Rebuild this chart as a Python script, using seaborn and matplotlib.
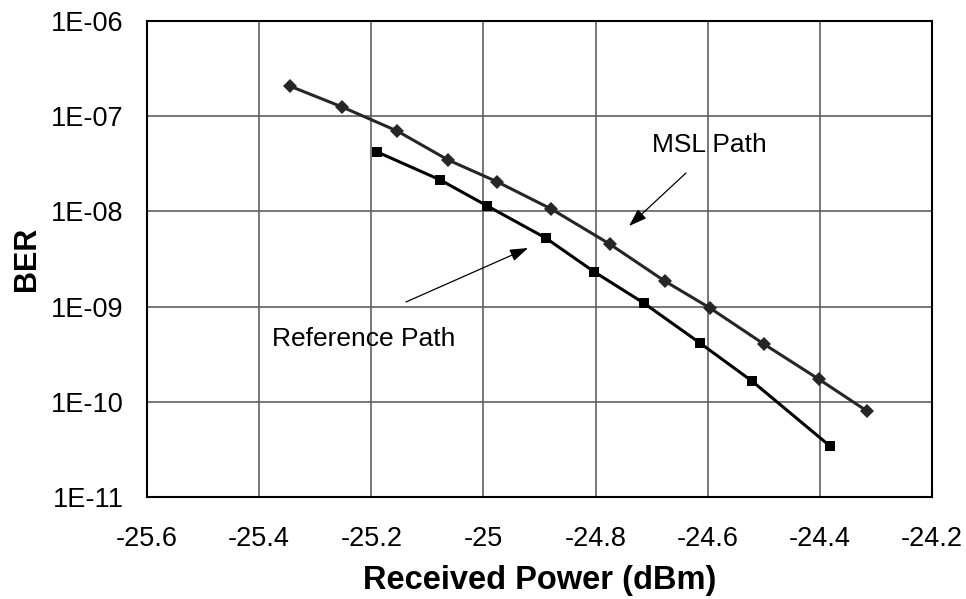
import numpy as np
import pandas as pd
import matplotlib
matplotlib.use("Agg")
import matplotlib.pyplot as plt
from matplotlib.ticker import FixedLocator, FixedFormatter
import seaborn as sns

msl_power = [-25.345, -25.252, -25.154, -25.063, -24.975, -24.879, -24.775,
             -24.677, -24.596, -24.500, -24.402, -24.316]
msl_ber = [2.07e-7, 1.25e-7, 7.0e-8, 3.47e-8, 2.04e-8, 1.06e-8, 4.55e-9,
           1.86e-9, 9.67e-10, 4.05e-10, 1.73e-10, 8.0e-11]
ref_power = [-25.189, -25.077, -24.993, -24.889, -24.802, -24.714, -24.614,
             -24.521, -24.382]
ref_ber = [4.2e-8, 2.14e-8, 1.14e-8, 5.26e-9, 2.31e-9, 1.09e-9, 4.15e-10,
           1.65e-10, 3.43e-11]
x_ticks = [-25.6, -25.4, -25.2, -25.0, -24.8, -24.6, -24.4, -24.2]
x_tick_labels = ["-25.6", "-25.4", "-25.2", "-25", "-24.8", "-24.6", "-24.4", "-24.2"]
y_ticks = [1e-11, 1e-10, 1e-9, 1e-8, 1e-7, 1e-6]
y_tick_labels = ["1E-11", "1E-10", "1E-09", "1E-08", "1E-07", "1E-06"]

sns.set_theme(style="white")
plt.rcParams['font.family'] = ['Liberation Sans', 'DejaVu Sans']
plt.rcParams['text.color'] = 'black'
plt.rcParams['axes.labelcolor'] = 'black'

df = pd.DataFrame({
    "power": msl_power + ref_power,
    "ber": msl_ber + ref_ber,
    "series": ["MSL Path"] * len(msl_power) + ["Reference Path"] * len(ref_power),
})

fig = plt.figure(figsize=(9.66, 5.99), dpi=100)
ax = fig.add_axes([147 / 966, 1 - 497 / 599, (932 - 147) / 966, (497 - 21) / 599])

sns.lineplot(data=df, x="power", y="ber", hue="series", style="series",
             palette={"MSL Path": "#262626", "Reference Path": "#000000"},
             markers={"MSL Path": "D", "Reference Path": "s"},
             dashes=False, markersize=7, linewidth=2.2, markeredgewidth=0,
             legend=False, ax=ax, zorder=3)

ax.set_yscale("log")
ax.set_xlim(-25.6, -24.2)
ax.set_ylim(1e-11, 1e-6)
ax.xaxis.set_major_locator(FixedLocator(x_ticks))
ax.xaxis.set_major_formatter(FixedFormatter(x_tick_labels))
ax.yaxis.set_major_locator(FixedLocator(y_ticks))
ax.yaxis.set_major_formatter(FixedFormatter(y_tick_labels))
ax.yaxis.set_minor_locator(FixedLocator([]))
ax.tick_params(axis="both", which="both", length=0, labelsize=19.5, colors="black")
ax.tick_params(axis="x", pad=21)
ax.tick_params(axis="y", pad=17)

ax.grid(True, which="major", color="#606060", linewidth=1.2)
for s in ax.spines.values():
    s.set_color("black")
    s.set_linewidth(1.5)

ax.set_xlabel("Received Power (dBm)", fontsize=23.5, fontweight="bold", labelpad=9)
ax.set_ylabel("BER", fontsize=22, fontweight="bold", labelpad=6)

arrow_style = "-|>,head_length=0.5,head_width=0.17"
ax.text(0.643, 0.7395, "MSL Path", transform=ax.transAxes, fontsize=19,
        ha="left", va="center")
ax.annotate("", xy=(0.614, 0.5693), xytext=(0.6866, 0.6807),
            xycoords="axes fraction", textcoords="axes fraction",
            arrowprops=dict(arrowstyle=arrow_style, color="black", lw=0.9,
                            shrinkA=0, shrinkB=0, mutation_scale=22))
ax.text(0.1592, 0.3319, "Reference Path", transform=ax.transAxes, fontsize=19,
        ha="left", va="center")
ax.annotate("", xy=(0.4854, 0.5231), xytext=(0.3299, 0.4097),
            xycoords="axes fraction", textcoords="axes fraction",
            arrowprops=dict(arrowstyle=arrow_style, color="black", lw=0.9,
                            shrinkA=0, shrinkB=0, mutation_scale=22))

fig.savefig("out.png", dpi=100)
